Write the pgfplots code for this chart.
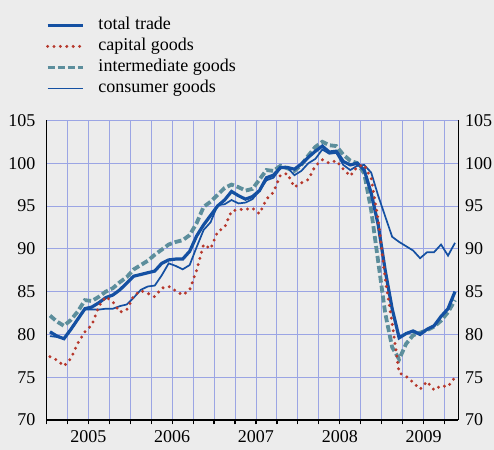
\documentclass[border=0pt]{standalone}
\usepackage{fontspec}
\setmainfont{Liberation Serif}
\usepackage{pgfplots}
\usepackage{pgfplotstable}
\pgfplotsset{compat=1.18}
\definecolor{bg}{RGB}{236,236,236}
\definecolor{gridc}{RGB}{155,165,228}
\definecolor{tblue}{RGB}{20,80,162}
\definecolor{capred}{RGB}{182,56,44}
\definecolor{intteal}{RGB}{92,142,156}
\pgfplotstableread{
m tt cap int con
0 80.3 77.4 82.2 79.8
1 79.8 77.0 81.5 79.7
2 79.5 76.3 81.0 79.5
3 80.6 77.2 81.7 80.6
4 81.8 79.0 82.7 81.8
5 83.0 80.3 84.0 82.9
6 83.2 81.1 83.9 82.9
7 83.7 83.3 84.4 82.9
8 84.3 84.4 85.0 83.0
9 84.6 83.8 85.4 83.0
10 85.2 82.6 86.1 83.3
11 86.0 82.9 86.7 83.5
12 86.8 84.5 87.6 84.3
13 87.0 85.1 88.1 85.2
14 87.2 84.8 88.6 85.6
15 87.4 84.4 89.3 85.7
16 88.3 85.4 89.9 86.9
17 88.7 85.6 90.5 88.3
18 88.8 85.1 90.8 88.0
19 88.8 84.6 91.0 87.6
20 89.7 85.2 91.6 88.1
21 91.5 87.5 93.0 90.2
22 92.8 90.5 94.9 92.2
23 93.9 90.0 95.5 93.1
24 95.0 92.0 96.3 95.1
25 95.7 92.5 97.1 95.2
26 96.7 94.4 97.5 95.7
27 96.2 94.6 97.2 95.3
28 95.8 94.6 96.8 95.4
29 96.1 94.75 97.0 95.8
30 96.8 94.1 98.1 96.8
31 98.3 95.8 99.2 98.0
32 98.6 96.6 99.1 98.3
33 99.5 98.6 99.7 99.4
34 99.5 98.8 99.4 99.5
35 99.3 97.2 99.1 98.6
36 99.9 97.7 99.8 99.1
37 100.7 98.1 100.9 100.0
38 101.4 99.7 101.9 100.5
39 102.0 100.4 102.5 101.6
40 101.3 100.0 102.1 101.1
41 101.4 100.3 102.0 101.2
42 100.2 99.3 101.0 99.8
43 99.8 98.5 100.3 99.2
44 100.0 99.6 100.0 99.7
45 99.2 99.8 98.8 99.8
46 96.5 98.2 94.5 98.9
47 92.8 93.4 88.5 96.2
48 87.5 86.5 82.5 93.8
49 83.0 81.3 78.5 91.4
50 79.6 75.5 77.1 90.8
51 80.1 75.1 78.9 90.3
52 80.4 74.4 79.9 89.8
53 80.0 73.6 80.2 88.9
54 80.6 74.5 80.5 89.6
55 81.0 73.5 80.9 89.6
56 82.1 74.0 81.6 90.5
57 83.0 73.9 82.6 89.2
58 85.0 75.0 84.0 90.7
}\data
\tikzset{
  ttstyle/.style={tblue, line width=3.2bp},
  capstyle/.style={capred, line width=3.3bp, line cap=round, dash pattern=on 0bp off 6.4bp},
  intstyle/.style={intteal, line width=3.8bp, dash pattern=on 7bp off 3bp},
  constyle/.style={tblue, line width=1.7bp}
}
\begin{document}
\begin{tikzpicture}
\fill[bg] (0,0) rectangle (494bp,450bp);
\begin{axis}[
  at={(46.5bp,30bp)}, anchor=south west,
  scale only axis, width=412bp, height=299.6bp,
  xmin=0, xmax=59, ymin=70, ymax=105,
  axis x line*=bottom, axis y line*=left,
  axis line style={black, line width=1.4bp, -},
  xtick={0,3,...,57}, xticklabels={},
  extra x ticks={6,18,30,42,54},
  extra x tick labels={2005,2006,2007,2008,2009},
  extra x tick style={grid=none, major tick length=0pt},
  ytick={70,75,...,105},
  tick align=outside,
  major tick length=4.5bp,
  x tick style={black, line width=1.2bp},
  y tick style={draw=none},
  xmajorgrids, ymajorgrids,
  grid style={gridc, line width=0.9bp},
  /pgf/number format/assume math mode=true,
  ticklabel style={font=\fontsize{18bp}{18bp}\selectfont},
  yticklabel style={xshift=-3bp},
  xticklabel style={yshift=-7bp},
  legend cell align=left,
  legend style={draw=none, fill=none, at={(axis description cs:0,1)}, anchor=south west,
    xshift=-1bp, yshift=23bp, inner sep=0pt, row sep=3.5bp,
    font=\fontsize{18bp}{18bp}\selectfont,
    nodes={inner sep=0pt, text height=13bp, text depth=4.5bp},
    /tikz/every odd column/.append style={column sep=14bp}},
  legend image code/.code={\draw[#1] (0bp,0bp) -- (35bp,0bp);},
]
\addplot[intstyle, forget plot] table[x expr=\thisrow{m}+0.5, y=int] {\data};
\addplot[ttstyle, forget plot] table[x expr=\thisrow{m}+0.5, y=tt] {\data};
\addplot[constyle, forget plot] table[x expr=\thisrow{m}+0.5, y=con] {\data};
\addplot[capstyle, forget plot] table[x expr=\thisrow{m}+0.5, y=cap] {\data};
\addlegendimage{ttstyle}
\addlegendentry{total trade}
\addlegendimage{capstyle}
\addlegendentry{capital goods}
\addlegendimage{intstyle}
\addlegendentry{intermediate goods}
\addlegendimage{constyle}
\addlegendentry{consumer goods}
\end{axis}
\begin{axis}[
  at={(46.5bp,30bp)}, anchor=south west,
  scale only axis, width=412bp, height=299.6bp,
  xmin=0, xmax=59, ymin=70, ymax=105,
  axis x line=none, axis y line*=right,
  axis line style={black, line width=1.4bp, -},
  ytick={70,75,...,105},
  y tick style={draw=none},
  major tick length=0pt,
  /pgf/number format/assume math mode=true,
  ticklabel style={font=\fontsize{18bp}{18bp}\selectfont},
  yticklabel style={xshift=3bp},
]
\addplot[draw=none] coordinates {(0,70)};
\end{axis}
\pgfresetboundingbox
\useasboundingbox (0,0) rectangle (494bp,450bp);
\end{tikzpicture}
\end{document}
